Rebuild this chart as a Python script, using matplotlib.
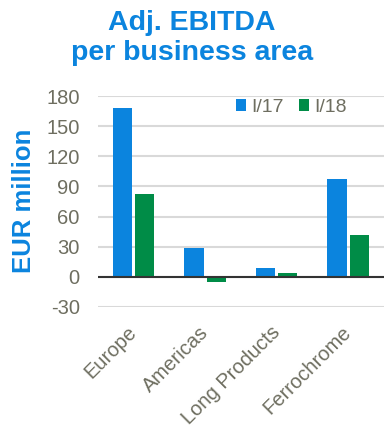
import numpy as np
import matplotlib.pyplot as plt

plt.rcParams['font.family'] = ['Liberation Sans', 'DejaVu Sans']

categories = ['Europe', 'Americas', 'Long Products', 'Ferrochrome']
q1_17 = [168, 29, 9, 97]
q1_18 = [83, -5, 3.5, 42]
yticks = [-30, 0, 30, 60, 90, 120, 150, 180]

blue = '#0B84DE'
green = '#008C47'
grey = '#6E6E60'

fig = plt.figure(figsize=(3.84, 4.33), dpi=100)
ax = fig.add_axes([0.255, 0.291, 0.745, 0.487])

x = np.arange(len(categories))
w = 0.27
ax.bar(x - w / 2 - 0.02, q1_17, w, color=blue, label='I/17', zorder=3)
ax.bar(x + w / 2 + 0.02, q1_18, w, color=green, label='I/18', zorder=3)

ax.set_xlim(-0.5, 3.5)
ax.set_ylim(-30, 180)
ax.set_yticks(yticks)
ax.set_yticklabels([str(t) for t in yticks], color=grey, fontsize=14.5)
ax.set_xticks(x)
ax.set_xticklabels(categories, rotation=45, ha='right', va='center',
                   rotation_mode='anchor', color=grey, fontsize=14.5)
ax.tick_params(length=0)
ax.tick_params(axis='y', pad=13)
ax.tick_params(axis='x', pad=16)
for s in ax.spines.values():
    s.set_visible(False)
ax.yaxis.grid(True, color='#D9D9D9', linewidth=1.5, zorder=0)
ax.axhline(0, color='#333333', linewidth=1.5, zorder=4)

ax.set_ylabel('EUR million', color=blue, fontsize=18.5, fontweight='bold')
ax.yaxis.set_label_coords(-0.217, 0.505)
fig.text(0.5, 0.978, 'Adj. EBITDA\nper business area', ha='center', va='top',
         color=blue, fontsize=20.5, fontweight='bold', linespacing=1.2)

leg = ax.legend(loc='center right', bbox_to_anchor=(0.87, 0.948), ncol=2, frameon=False,
                fontsize=14, handlelength=0.55, handleheight=0.55, handletextpad=0.25,
                columnspacing=0.77, borderpad=0, borderaxespad=0)
for t in leg.get_texts():
    t.set_color(grey)

fig.savefig('out.png', dpi=100, facecolor='white')
